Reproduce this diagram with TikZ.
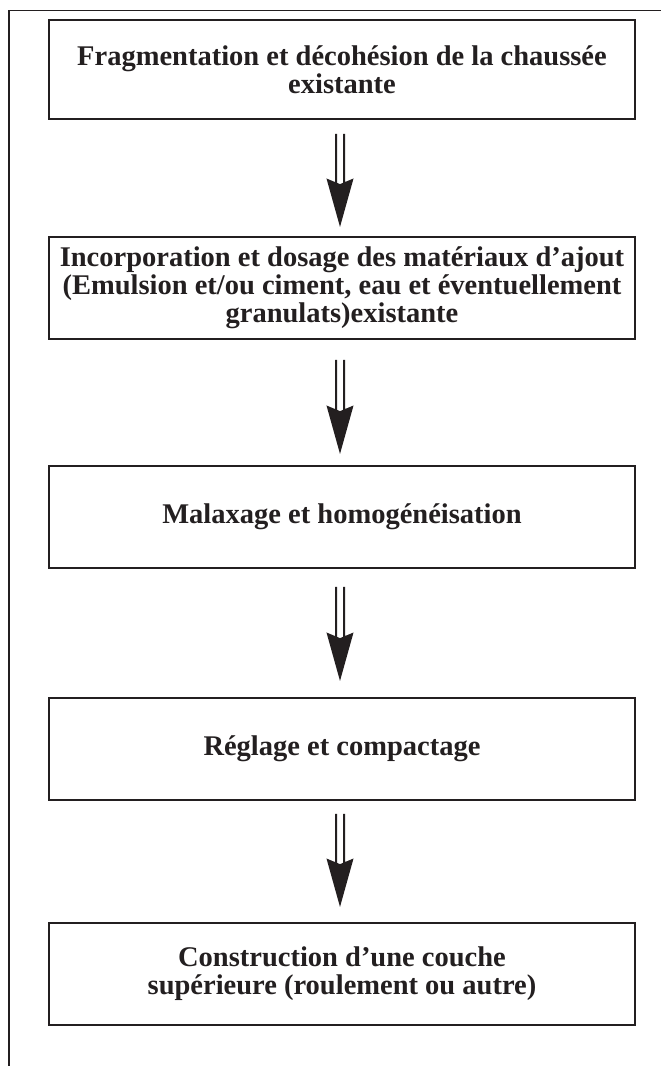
\documentclass[tikz,border=0pt]{standalone}
\usepackage{fontspec}
\setmainfont{Liberation Serif}
\usetikzlibrary{calc}
\definecolor{ink}{HTML}{231F20}
\begin{document}
\begin{tikzpicture}[x=1pt,y=-1pt,
  stepbox/.style={draw=ink, line width=1.6pt, minimum width=586pt, minimum height=102pt,
    inner sep=0pt, align=center, text=ink,
    font=\fontsize{28.5}{28}\selectfont\bfseries},
  dblarrow/.style={draw=ink, fill=ink, line width=2pt, line join=miter,
    to path={
      ($(\tikztostart)+(-4,0)$) -- ($(\tikztotarget)+(-4,-44)$)
      ($(\tikztostart)+(4,0)$) -- ($(\tikztotarget)+(4,-44)$)
      ($(\tikztotarget)+(-12,-47)$) -- ($(\tikztotarget)+(0,-42)$) -- ($(\tikztotarget)+(12,-47)$) -- ($(\tikztotarget)+(0,-4)$) -- cycle
    }},
  frame/.style={draw=ink, line width=1.2pt}
]
\useasboundingbox (0,0) rectangle (661,1066);
\draw[frame] (661,10.5) -- (9,10.5) -- (9,1066);

\node[stepbox, minimum height=99pt] (b1) at (342,69.5) {Fragmentation et décohésion de la chaussée\\existante};
\node[stepbox] (b2) at (342,288) {Incorporation et dosage des matériaux d’ajout\\(Emulsion et/ou ciment, eau et éventuellement\\granulats)existante};
\node[stepbox] (b3) at (342,517) {Malaxage et homogénéisation};
\node[stepbox] (b4) at (342,749) {Réglage et compactage};
\node[stepbox] (b5) at (342,974) {Construction d’une couche\\supérieure (roulement ou autre)};

\coordinate (s1) at ($(b1.south)+(-2,14)$);
\coordinate (t1) at ($(b2.north)+(-2,-9)$);
\coordinate (s2) at ($(b2.south)+(-2,20)$);
\coordinate (t2) at ($(b3.north)+(-2,-11)$);
\coordinate (s3) at ($(b3.south)+(-2,18)$);
\coordinate (t3) at ($(b4.north)+(-2,-16)$);
\coordinate (s4) at ($(b4.south)+(-2,13)$);
\coordinate (t4) at ($(b5.north)+(-2,-15)$);

\draw[dblarrow] (s1) to (t1);
\draw[dblarrow] (s2) to (t2);
\draw[dblarrow] (s3) to (t3);
\draw[dblarrow] (s4) to (t4);
\end{tikzpicture}
\end{document}
